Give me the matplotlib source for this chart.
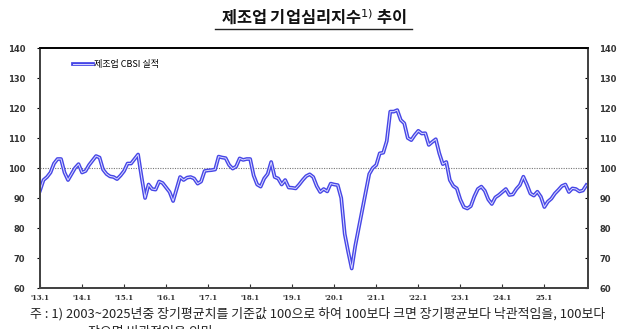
import matplotlib
matplotlib.use("Agg")
import matplotlib.pyplot as plt
import matplotlib.patheffects as pe
from matplotlib.lines import Line2D
import numpy as np

plt.rcParams['font.family'] = ['Noto Sans CJK KR', 'DejaVu Sans']

# 제조업 CBSI 실적, 월별 (2013.1 ~ 2026.1)
cbsi = [
    92.5, 96.0, 97.0, 98.5, 101.5, 103.0, 103.0, 98.5, 96.0, 98.0, 100.0, 101.3,     # 2013
    98.5, 99.0, 101.0, 102.5, 104.0, 103.5, 99.5, 98.0, 97.2, 97.0, 96.3, 97.5,      # 2014
    99.0, 101.5, 101.5, 103.0, 104.5, 97.0, 90.0, 94.5, 93.0, 92.8, 95.5, 95.0,      # 2015
    93.5, 92.0, 89.0, 93.0, 97.0, 96.0, 96.8, 97.0, 96.5, 94.8, 95.5, 99.0,          # 2016
    99.2, 99.3, 99.5, 103.8, 103.5, 103.3, 101.0, 99.8, 100.5, 103.2, 102.7, 103.0,  # 2017
    103.0, 97.5, 94.5, 93.8, 96.5, 98.0, 102.0, 97.0, 96.5, 94.5, 96.0, 93.5,        # 2018
    93.4, 93.2, 94.5, 96.0, 97.3, 97.9, 97.0, 94.0, 92.0, 93.0, 92.2, 94.8,          # 2019
    94.5, 94.3, 90.0, 78.0, 72.0, 66.5, 74.0, 80.0, 86.0, 92.0, 98.0, 100.0,         # 2020
    101.0, 104.9, 105.1, 109.0, 118.8, 118.8, 119.3, 116.0, 114.9, 110.0, 109.3, 111.0,  # 2021
    112.4, 111.5, 111.6, 107.7, 108.7, 109.6, 104.9, 101.3, 102.0, 96.0, 94.0, 93.2,     # 2022
    89.5, 87.0, 86.5, 87.3, 90.5, 93.0, 93.8, 92.4, 89.5, 88.0, 90.2, 91.0,          # 2023
    92.0, 93.0, 91.0, 91.2, 93.0, 94.3, 97.1, 94.5, 91.5, 90.8, 92.1, 90.4,          # 2024
    87.0, 88.8, 89.8, 91.5, 92.7, 94.0, 94.5, 92.0, 93.2, 93.0, 92.2, 92.5,          # 2025
    94.3,                                                                           # 2026
]
tick_labels = ["'13.1", "'14.1", "'15.1", "'16.1", "'17.1", "'18.1", "'19.1",
               "'20.1", "'21.1", "'22.1", "'23.1", "'24.1", "25.1"]
y_ticks = [60, 70, 80, 90, 100, 110, 120, 130, 140]
baseline = 100

blue = "#4646e6"
months = np.arange(len(cbsi))

fig = plt.figure(figsize=(6.4, 3.29), dpi=100)
ax = fig.add_axes([0.0625, 0.1246, 0.8565, 0.7294])

ax.axhline(baseline, color="#777777", lw=0.8, ls=(0, (1, 1.2)), zorder=1)
ax.plot(months, cbsi, color="#dcdcff", lw=0.7, label="제조업 CBSI 실적", zorder=3,
        path_effects=[pe.Stroke(linewidth=2.7, foreground=blue), pe.Normal()])

ax.set_xlim(0, 156.5)
ax.set_ylim(60, 140)
ax.set_xticks(np.arange(0, 12 * len(tick_labels), 12))
ax.set_xticklabels(tick_labels, fontsize=5, fontweight="bold", family="DejaVu Serif")
ax.set_yticks(y_ticks)
ax.set_yticklabels([str(v) for v in y_ticks], fontsize=6, fontweight="bold",
                   family="DejaVu Sans", color="#333333")
ax.tick_params(axis="x", direction="in", length=3, width=0.8, pad=4, colors="#333333")
ax.tick_params(axis="y", direction="out", length=2.5, width=0.8, pad=8)

ax2 = ax.twinx()
ax2.set_ylim(60, 140)
ax2.set_yticks(y_ticks)
ax2.set_yticklabels([str(v) for v in y_ticks], fontsize=6, fontweight="bold",
                    family="DejaVu Sans", color="#333333")
ax2.tick_params(axis="y", direction="in", length=2.5, width=0.8, pad=8)

for a in (ax, ax2):
    for side in ("left", "right", "bottom"):
        a.spines[side].set_color("#444444")
        a.spines[side].set_linewidth(1.4)
    a.spines["top"].set_color("black")
    a.spines["top"].set_linewidth(1.2)

ax.legend(loc="upper left", bbox_to_anchor=(0.045, 0.985), frameon=False,
          fontsize=6.5, handlelength=2.2, handletextpad=0.1)

# 제목 + 밑줄
fig.text(0.49, 0.945, "제조업 기업심리지수$^{1)}$ 추이", ha="center", va="center",
         fontsize=11.8, fontweight="bold", color="#111111")
fig.add_artist(Line2D([0.336, 0.644], [0.912, 0.912], color="#222222", lw=1.0))

# 주석
fig.text(0.047, 0.045, "주 : 1) 2003~2025년중 장기평균치를 기준값 100으로 하여 100보다 크면 장기평균보다 낙관적임을, 100보다",
         fontsize=9.3, va="center", color="#222222")
fig.text(0.138, -0.012, "작으면 비관적임을 의미", fontsize=9.3, va="center", color="#222222")

fig.savefig("out.png", dpi=100)
